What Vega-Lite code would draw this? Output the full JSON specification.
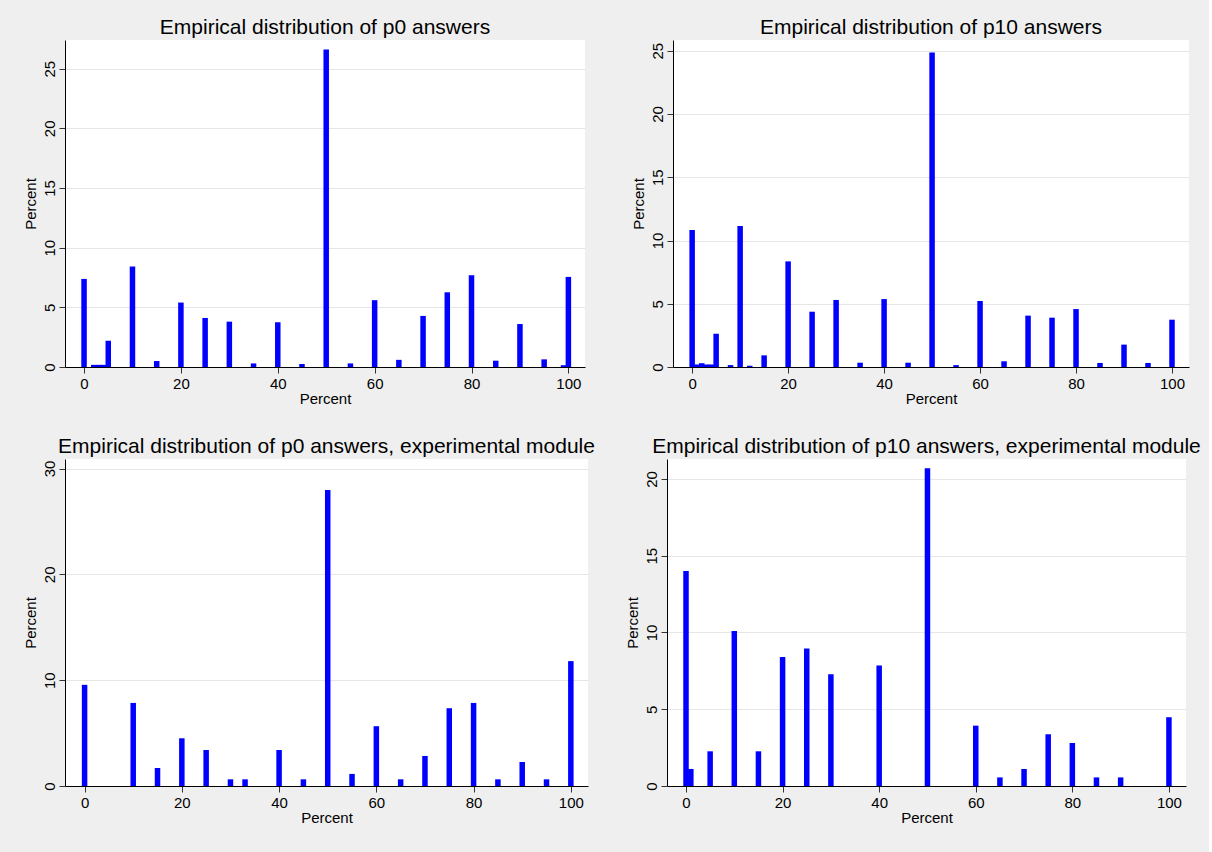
{
  "$schema": "https://vega.github.io/schema/vega-lite/v6.json",
  "background": "#efefef",
  "padding": {"left": 23, "top": 17, "right": 8, "bottom": 28},
  "datasets": {
    "p0": [
      {"value": 0, "pct": 7.38}, {"value": 2, "pct": 0.18}, {"value": 3, "pct": 0.18}, {"value": 4, "pct": 0.18},
      {"value": 5, "pct": 2.2}, {"value": 10, "pct": 8.42}, {"value": 15, "pct": 0.5}, {"value": 20, "pct": 5.4},
      {"value": 25, "pct": 4.11}, {"value": 30, "pct": 3.8}, {"value": 35, "pct": 0.3}, {"value": 40, "pct": 3.75},
      {"value": 45, "pct": 0.25}, {"value": 50, "pct": 26.6}, {"value": 55, "pct": 0.3}, {"value": 60, "pct": 5.6},
      {"value": 65, "pct": 0.6}, {"value": 70, "pct": 4.28}, {"value": 75, "pct": 6.26}, {"value": 80, "pct": 7.69},
      {"value": 85, "pct": 0.53}, {"value": 90, "pct": 3.6}, {"value": 95, "pct": 0.64}, {"value": 99, "pct": 0.15},
      {"value": 100, "pct": 7.55}
    ],
    "p10": [
      {"value": 0, "pct": 10.83}, {"value": 1, "pct": 0.2}, {"value": 2, "pct": 0.3}, {"value": 3, "pct": 0.2},
      {"value": 4, "pct": 0.2}, {"value": 5, "pct": 2.63}, {"value": 8, "pct": 0.15}, {"value": 10, "pct": 11.14},
      {"value": 12, "pct": 0.1}, {"value": 15, "pct": 0.92}, {"value": 20, "pct": 8.35}, {"value": 25, "pct": 4.37},
      {"value": 30, "pct": 5.3}, {"value": 35, "pct": 0.34}, {"value": 40, "pct": 5.37}, {"value": 45, "pct": 0.34},
      {"value": 50, "pct": 24.87}, {"value": 55, "pct": 0.15}, {"value": 60, "pct": 5.22}, {"value": 65, "pct": 0.45},
      {"value": 70, "pct": 4.06}, {"value": 75, "pct": 3.9}, {"value": 80, "pct": 4.58}, {"value": 85, "pct": 0.32},
      {"value": 90, "pct": 1.77}, {"value": 95, "pct": 0.32}, {"value": 100, "pct": 3.74}
    ],
    "p0x": [
      {"value": 0, "pct": 9.56}, {"value": 10, "pct": 7.85}, {"value": 15, "pct": 1.7}, {"value": 20, "pct": 4.51},
      {"value": 25, "pct": 3.4}, {"value": 30, "pct": 0.63}, {"value": 33, "pct": 0.63}, {"value": 40, "pct": 3.4},
      {"value": 45, "pct": 0.63}, {"value": 50, "pct": 27.98}, {"value": 55, "pct": 1.14}, {"value": 60, "pct": 5.65},
      {"value": 65, "pct": 0.63}, {"value": 70, "pct": 2.84}, {"value": 75, "pct": 7.35}, {"value": 80, "pct": 7.85},
      {"value": 85, "pct": 0.63}, {"value": 90, "pct": 2.27}, {"value": 95, "pct": 0.63}, {"value": 100, "pct": 11.8}
    ],
    "p10x": [
      {"value": 0, "pct": 14.0}, {"value": 1, "pct": 1.11}, {"value": 5, "pct": 2.26}, {"value": 10, "pct": 10.09},
      {"value": 15, "pct": 2.26}, {"value": 20, "pct": 8.41}, {"value": 25, "pct": 8.96}, {"value": 30, "pct": 7.28},
      {"value": 40, "pct": 7.85}, {"value": 50, "pct": 20.7}, {"value": 60, "pct": 3.93}, {"value": 65, "pct": 0.56},
      {"value": 70, "pct": 1.11}, {"value": 75, "pct": 3.37}, {"value": 80, "pct": 2.8}, {"value": 85, "pct": 0.56},
      {"value": 90, "pct": 0.56}, {"value": 100, "pct": 4.48}
    ]
  },
  "config": {
    "font": "Liberation Sans",
    "view": {"fill": "white", "stroke": null},
    "title": {"fontSize": 21, "fontWeight": "normal", "color": "black", "anchor": "middle", "frame": "group", "offset": 2, "font": "Liberation Sans"},
    "axis": {
      "labelFont": "Liberation Sans", "titleFont": "Liberation Sans",
      "labelFontSize": 15, "titleFontSize": 15, "titleFontWeight": "normal",
      "labelColor": "black", "titleColor": "black",
      "domainColor": "black", "tickColor": "#333333", "tickSize": 6,
      "gridColor": "#e6e6e6"
    },
    "axisX": {"grid": false, "labelPadding": 3, "titlePadding": 0},
    "axisY": {"grid": true, "labelAngle": -90, "labelAlign": "center", "labelBaseline": "bottom", "labelPadding": 2, "titlePadding": 4}
  },
  "spacing": 30,
  "vconcat": [
    {
      "spacing": 46,
      "hconcat": [
        {
          "data": {"name": "p0"},
          "title": "Empirical distribution of p0 answers",
          "width": 520, "height": 327,
          "mark": {"type": "bar", "color": "#0000ff", "width": 5.5},
          "encoding": {
            "x": {"field": "value", "type": "quantitative", "scale": {"domain": [-2.9, 102.4], "nice": false, "zero": false}, "axis": {"values": [0, 20, 40, 60, 80, 100], "title": "Percent"}},
            "y": {"field": "pct", "type": "quantitative", "scale": {"domain": [0, 27.4], "nice": false}, "axis": {"values": [0, 5, 10, 15, 20, 25], "title": "Percent"}}
          }
        },
        {
          "data": {"name": "p10"},
          "title": "Empirical distribution of p10 answers",
          "width": 516, "height": 327,
          "mark": {"type": "bar", "color": "#0000ff", "width": 5.5},
          "encoding": {
            "x": {"field": "value", "type": "quantitative", "scale": {"domain": [-2.95, 102.5], "nice": false, "zero": false}, "axis": {"values": [0, 20, 40, 60, 80, 100], "title": "Percent"}},
            "y": {"field": "pct", "type": "quantitative", "scale": {"domain": [0, 25.85], "nice": false}, "axis": {"values": [0, 5, 10, 15, 20, 25], "title": "Percent"}}
          }
        }
      ]
    },
    {
      "spacing": 30,
      "hconcat": [
        {
          "data": {"name": "p0x"},
          "title": "Empirical distribution of p0 answers, experimental module",
          "width": 523, "height": 327,
          "mark": {"type": "bar", "color": "#0000ff", "width": 5.5},
          "encoding": {
            "x": {"field": "value", "type": "quantitative", "scale": {"domain": [-3, 102.5], "nice": false, "zero": false}, "axis": {"values": [0, 20, 40, 60, 80, 100], "title": "Percent"}},
            "y": {"field": "pct", "type": "quantitative", "scale": {"domain": [0, 30.9], "nice": false}, "axis": {"values": [0, 10, 20, 30], "title": "Percent"}}
          }
        },
        {
          "data": {"name": "p10x"},
          "title": "Empirical distribution of p10 answers, experimental module",
          "width": 519, "height": 327,
          "mark": {"type": "bar", "color": "#0000ff", "width": 5.5},
          "encoding": {
            "x": {"field": "value", "type": "quantitative", "scale": {"domain": [-2.9, 102.5], "nice": false, "zero": false}, "axis": {"values": [0, 20, 40, 60, 80, 100], "title": "Percent"}},
            "y": {"field": "pct", "type": "quantitative", "scale": {"domain": [0, 21.3], "nice": false}, "axis": {"values": [0, 5, 10, 15, 20], "title": "Percent"}}
          }
        }
      ]
    }
  ]
}
